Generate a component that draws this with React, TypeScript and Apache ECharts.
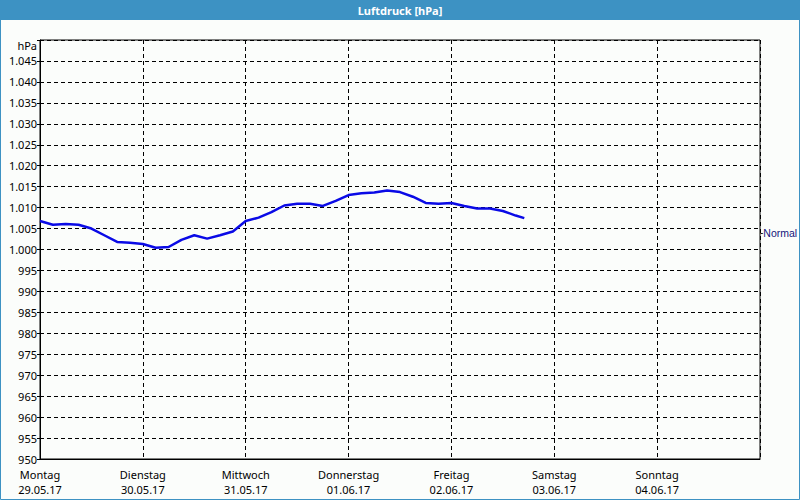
import React, { useEffect, useRef } from "react";
import * as echarts from "echarts";

const hours = [0, 3, 6, 9, 12, 15, 18, 21, 24, 27, 30, 33, 36, 39, 42, 45, 48, 51, 54, 57, 60, 63, 66, 69, 72, 75, 78, 81, 84, 87, 90, 93, 96, 99, 102, 105, 108, 111, 113];
const pressure = [1006.8, 1005.9, 1006.1, 1005.9, 1005.0, 1003.4, 1001.8, 1001.6, 1001.3, 1000.4, 1000.6, 1002.3, 1003.4, 1002.6, 1003.4, 1004.3, 1006.8, 1007.6, 1008.9, 1010.5, 1010.9, 1010.9, 1010.4, 1011.6, 1013.0, 1013.4, 1013.6, 1014.1, 1013.7, 1012.6, 1011.1, 1010.9, 1011.1, 1010.4, 1009.8, 1009.8, 1009.2, 1008.1, 1007.5];
const dayNames = ["Montag", "Dienstag", "Mittwoch", "Donnerstag", "Freitag", "Samstag", "Sonntag"];
const dayDates = ["29.05.17", "30.05.17", "31.05.17", "01.06.17", "02.06.17", "03.06.17", "04.06.17"];
const normalValue = 1004;
const titleText = "Luftdruck [hPa]";

const FONT = "Noto Sans";

export default function App() {
  const ref = useRef<HTMLDivElement>(null);
  useEffect(() => {
    if (!ref.current) return;
    const chart = echarts.init(ref.current, null, { renderer: "svg" });
    chart.setOption({
      animation: false,
      backgroundColor: "#fbfdfb",
      textStyle: { fontFamily: FONT },
      graphic: [
        {
          type: "rect",
          shape: { x: 0.5, y: 0.5, width: 799, height: 499 },
          style: { fill: "none", stroke: "#3d92c3", lineWidth: 1 },
          z: 100,
        },
        {
          type: "rect",
          shape: { x: 0, y: 0, width: 800, height: 20 },
          style: { fill: "#3d92c3" },
        },
        {
          type: "text",
          x: 400,
          y: 10,
          style: {
            text: titleText,
            fill: "#ffffff",
            font: `bold 11px "${FONT}"`,
            textAlign: "center",
            textVerticalAlign: "middle",
          },
        },
      ],
      grid: {
        left: 40,
        top: 40,
        right: 40,
        bottom: 41,
        show: true,
        borderColor: "#000",
        borderWidth: 1,
        backgroundColor: "transparent",
      },
      xAxis: {
        type: "value",
        min: 0,
        max: 168,
        interval: 24,
        axisLine: { show: true, lineStyle: { color: "#000", width: 1 } },
        axisTick: { show: false },
        splitLine: { show: true, lineStyle: { color: "#000", type: [4, 3], width: 1 } },
        axisLabel: {
          color: "#000",
          fontSize: 11,
          fontFamily: FONT,
          lineHeight: 15,
          margin: 8,
          formatter: (v: number) => {
            const i = Math.round(v / 24);
            if (i >= dayNames.length) return "";
            return dayNames[i] + "\n" + dayDates[i];
          },
        },
      },
      yAxis: {
        type: "value",
        min: 950,
        max: 1050,
        interval: 5,
        axisLine: { show: true, lineStyle: { color: "#000", width: 1 } },
        axisTick: { show: true, length: 3, inside: false, lineStyle: { color: "#000" } },
        splitLine: { show: true, lineStyle: { color: "#000", type: [4, 3], width: 1 } },
        axisLabel: {
          color: "#000",
          fontSize: 11,
          fontFamily: FONT,
          margin: 3,
          formatter: (v: number) => {
            if (v >= 1050) return "{h|hPa}";
            if (v >= 1000) return "1." + String(v - 1000).padStart(3, "0");
            return String(v);
          },
          rich: {
            h: { color: "#000", fontSize: 11, fontFamily: FONT, padding: [10, 0, 0, 0] },
          },
        },
      },
      series: [
        {
          type: "line",
          data: hours.map((h, i) => [h, pressure[i]]),
          showSymbol: false,
          smooth: false,
          lineStyle: { color: "#0a0ae6", width: 2.5 },
          markLine: {
            silent: true,
            symbol: "none",
            lineStyle: { color: "transparent", width: 0, type: "solid" },
            label: {
              show: true,
              position: "end",
              distance: 0,
              formatter: "{d|-}{n|Normal}",
              rich: {
                d: { color: "#000", fontSize: 10, fontFamily: "Liberation Sans" },
                n: { color: "#14147a", fontSize: 10.5, fontFamily: "Liberation Sans" },
              },
            },
            data: [{ yAxis: normalValue }],
          },
        },
      ],
    });
    return () => chart.dispose();
  }, []);
  return (
    <div
      ref={ref}
      style={{ position: "absolute", left: 0, top: 0, width: 800, height: 500 }}
    />
  );
}
